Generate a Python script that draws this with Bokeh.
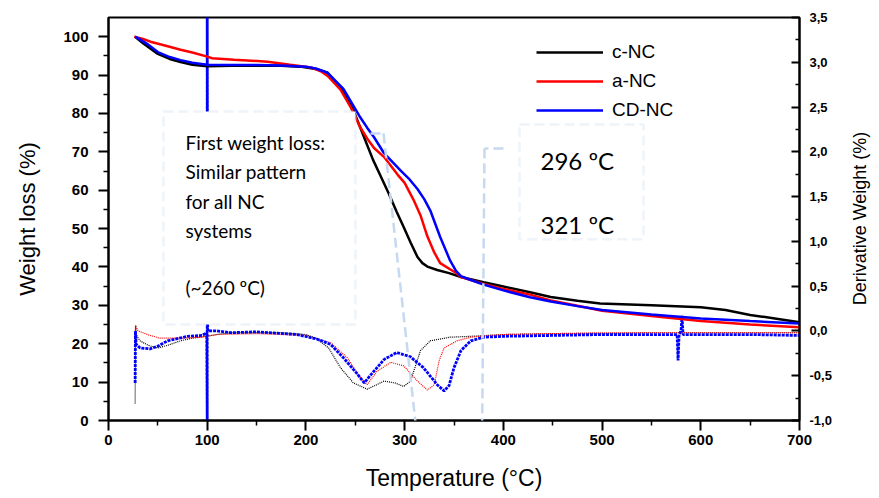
import math
from bokeh.plotting import figure
from bokeh.models import (Range1d, LinearAxis, FixedTicker, CustomJSTickFormatter,
                          BoxAnnotation, Label, Arrow, Legend, LegendItem)
from bokeh.embed import file_html
from bokeh.resources import INLINE

# ---------------- TG curves (left axis, weight %) ----------------
t_c = [27, 35, 50, 62, 73, 85, 100, 125, 150, 175, 194, 210, 222, 235, 248, 258, 268, 276, 284,
       292, 299, 306, 313, 318, 323, 333, 345, 357, 380, 400, 427, 448, 475, 498, 550, 600, 625,
       650, 675, 700]
w_c = [100.0, 98.3, 95.5, 94.2, 93.4, 92.7, 92.3, 92.4, 92.4, 92.4, 92.2, 91.6, 90.6, 86.7, 80.9,
       74.4, 67.9, 63.5, 59.1, 54.3, 50.4, 46.4, 42.6, 41.0, 40.1, 39.2, 38.4, 37.4, 36.0, 34.9,
       33.4, 32.2, 31.2, 30.5, 30.0, 29.5, 28.8, 27.5, 26.6, 25.6]

t_a = [26, 35, 42.5, 60, 73, 85, 100, 105, 127, 161, 184, 205, 215, 222, 235, 245, 255, 262, 269,
       279, 286, 293, 300, 309, 316, 323, 330, 336, 346, 353, 357, 380, 400, 427, 448, 475, 500,
       550, 600, 650, 700]
w_a = [100.0, 99.4, 98.7, 97.5, 96.6, 95.9, 94.8, 94.4, 94.0, 93.5, 92.7, 92.0, 91.0, 89.8, 86.2,
       81.8, 76.4, 73.5, 71.0, 68.7, 66.4, 64.0, 61.9, 57.5, 53.5, 48.0, 43.8, 41.0, 39.4, 38.3,
       37.4, 35.6, 34.3, 32.8, 31.3, 29.9, 28.6, 27.2, 25.9, 25.0, 24.3]

t_cd = [27, 40, 50, 62, 73, 85, 100, 125, 150, 175, 200, 210, 222, 238, 255, 262, 269, 279, 283,
        296, 305, 313, 320, 326, 336, 346, 352, 357, 365, 380, 400, 427, 448, 475, 500, 550, 600,
        650, 700]
w_cd = [100.0, 98.0, 96.0, 94.7, 93.9, 93.2, 92.7, 92.6, 92.6, 92.5, 92.2, 91.7, 90.6, 86.4, 79.0,
        76.3, 73.8, 69.7, 68.6, 65.1, 62.8, 60.3, 57.6, 54.7, 47.8, 41.7, 39.0, 37.6, 36.8, 35.4,
        33.9, 32.1, 31.0, 29.8, 28.8, 27.6, 26.6, 25.9, 25.3]

# ---------------- derivative curves (right axis) ----------------
dt_c = [27, 27.4, 28, 30, 32, 40, 50, 60, 73, 85, 93, 110, 124, 150, 175, 200, 210, 223, 235,
        248, 262, 270, 279, 290, 299, 306, 316, 326, 346, 367, 400, 450, 500, 550, 600, 650, 700]
dd_c = [-0.81, 0.06, -0.04, -0.08, -0.11, -0.16, -0.19, -0.16, -0.11, -0.08, -0.07, -0.04, -0.02,
        -0.02, -0.02, -0.04, -0.08, -0.19, -0.41, -0.58, -0.65, -0.61, -0.56, -0.58, -0.62, -0.56,
        -0.22, -0.11, -0.07, -0.06, -0.04, -0.03, -0.03, -0.02, -0.02, -0.02, -0.02]

dt_a = [27, 27.4, 30, 42, 52, 73, 93, 110, 150, 200, 225, 242, 255, 262, 272, 286, 299, 313, 323,
        330, 335, 340, 353, 367, 400, 450, 500, 550, 600, 650, 700]
dd_a = [-0.2, 0.06, 0.0, -0.05, -0.08, -0.08, -0.07, -0.04, -0.03, -0.05, -0.13, -0.30, -0.52,
        -0.60, -0.45, -0.35, -0.39, -0.56, -0.66, -0.60, -0.33, -0.19, -0.11, -0.07, -0.04, -0.03,
        -0.02, -0.02, -0.02, -0.02, -0.02]

dt_cd = [27, 27.3, 28, 32, 42, 50, 60, 80, 95, 99.5, 100, 100, 100.5, 110, 124, 150, 191, 211, 225,
         238, 252, 259, 265, 279, 292, 306, 319, 333, 340, 345, 350, 357, 367, 380, 400, 450, 500,
         550, 576, 577, 578, 580, 581, 582, 600, 650, 700]
dd_cd = [-0.58, 0.0, -0.15, -0.19, -0.20, -0.17, -0.11, -0.06, -0.05, -0.02, -1.0, 3.6, 0.0, 0.0,
         -0.02, -0.01, -0.04, -0.09, -0.15, -0.30, -0.48, -0.58, -0.50, -0.32, -0.24, -0.29, -0.41,
         -0.60, -0.67, -0.61, -0.41, -0.22, -0.11, -0.07, -0.06, -0.05, -0.04, -0.04, -0.04, -0.33,
         -0.04, 0.0, 0.17, -0.04, -0.04, -0.04, -0.05]

labels = ["c-NC", "a-NC", "CD-NC"]
colors = ["black", "red", "blue"]
x_ticks = [0, 100, 200, 300, 400, 500, 600, 700]
y_ticks = [0, 10, 20, 30, 40, 50, 60, 70, 80, 90, 100]
d_ticks = [-1.0, -0.5, 0.0, 0.5, 1.0, 1.5, 2.0, 2.5, 3.0, 3.5]

FONT = "Liberation Sans"
BOXC = "#c6d9f0"

p = figure(width=879, height=498, output_backend="svg", toolbar_location=None,
           x_range=Range1d(0, 700), y_range=Range1d(0, 105),
           min_border_left=108, min_border_right=80, min_border_top=17, min_border_bottom=78)
p.extra_y_ranges = {"deriv": Range1d(-1.0, 3.5)}
p.xgrid.visible = False
p.ygrid.visible = False
p.outline_line_color = "black"
p.outline_line_width = 2
p.background_fill_color = "white"

# derivative curves
p.line(dt_c, dd_c, y_range_name="deriv", line_color="black", line_width=1.2, line_dash="1 1")
p.line(dt_a, dd_a, y_range_name="deriv", line_color="red", line_width=1.2, line_dash="1 1")
p.line(dt_cd, dd_cd, y_range_name="deriv", line_color="blue", line_width=2.8, line_dash="3 1")

# TG curves
r_c = p.line(t_c, w_c, line_color=colors[0], line_width=2.5)
r_a = p.line(t_a, w_a, line_color=colors[1], line_width=2.5)
r_cd = p.line(t_cd, w_cd, line_color=colors[2], line_width=2.5)

def style_axis(ax, size):
    ax.axis_line_width = 2
    ax.axis_line_color = "black"
    ax.major_tick_line_width = 2
    ax.minor_tick_line_width = 1.5
    ax.major_label_text_font = FONT
    ax.major_label_text_font_style = "bold"
    ax.major_label_text_font_size = size
    ax.major_label_text_color = "black"
    ax.axis_label_text_font = FONT
    ax.axis_label_text_font_style = "normal"
    ax.axis_label_text_color = "black"

xa = p.xaxis[0]
style_axis(xa, "15px")
xa.ticker = FixedTicker(ticks=x_ticks, minor_ticks=[50, 150, 250, 350, 450, 550, 650])
xa.major_tick_out = 10
xa.major_tick_in = 0
xa.minor_tick_out = 5
xa.minor_tick_in = 0
xa.major_label_standoff = 4
xa.axis_label = "Temperature (°C)"
xa.axis_label_text_font_size = "23px"
xa.axis_label_standoff = 17

ya = p.yaxis[0]
style_axis(ya, "15px")
ya.ticker = FixedTicker(ticks=y_ticks, minor_ticks=[5, 15, 25, 35, 45, 55, 65, 75, 85, 95])
ya.major_tick_out = 10
ya.major_tick_in = 0
ya.minor_tick_out = 5
ya.minor_tick_in = 0
ya.major_label_standoff = 10
ya.axis_label = "Weight loss (%)"
ya.axis_label_text_font_size = "22px"
ya.axis_label_standoff = 20

ra = LinearAxis(y_range_name="deriv")
style_axis(ra, "13px")
ra.ticker = FixedTicker(ticks=d_ticks,
                        minor_ticks=[-0.75, -0.25, 0.25, 0.75, 1.25, 1.75, 2.25, 2.75, 3.25])
ra.formatter = CustomJSTickFormatter(code="return tick.toFixed(1).replace('.', ',');")
ra.major_tick_in = 8
ra.major_tick_out = 0
ra.minor_tick_in = 4
ra.minor_tick_out = 0
ra.major_label_standoff = 10
p.add_layout(ra, "right")

# right-hand title, reading bottom-to-top, placed in the right side panel
p.add_layout(Label(x=859, y=218, x_units="canvas", y_units="canvas",
                   text="Derivative Weight (%)", angle=math.pi / 2,
                   text_align="center", text_baseline="middle", text_font=FONT,
                   text_font_size="18px", text_color="black"), "right")

# annotation boxes
box1 = BoxAnnotation(left=55.7, right=250.2, bottom=25.0, top=80.5, fill_color="white",
                     fill_alpha=1.0, line_color=BOXC, line_width=2.5, line_dash="10 5")
box2 = BoxAnnotation(left=416.4, right=542.0, bottom=47.2, top=77.1, fill_color="white",
                     fill_alpha=1.0, line_color=BOXC, line_width=2.5, line_dash="10 5")
p.add_layout(box1)
p.add_layout(box2)

for (xs, ys, xe, ye) in [(265.4, 74.8, 278.6, 74.8), (278.6, 74.8, 312.1, -3.1),
                         (400.1, 70.9, 380.9, 70.9), (380.9, 70.9, 377.9, -20.3)]:
    p.add_layout(Arrow(x_start=xs, y_start=ys, x_end=xe, y_end=ye, end=None,
                       line_color=BOXC, line_width=2.5, line_dash="10 5"))

box1_lines = [("First weight loss:", 72.43), ("Similar pattern", 64.75),
              ("for all NC", 57.06), ("systems", 49.5), ("(~260 ºC)", 34.65)]
for txt, yy in box1_lines:
    p.add_layout(Label(x=78, y=yy, text=txt, text_font="Lato", text_font_size="19px",
                       text_baseline="alphabetic", text_color="black"))
for txt, yy in [("296 ºC", 67.74), ("321 ºC", 51.07)]:
    p.add_layout(Label(x=437.6, y=yy, text=txt, text_font="Lato", text_font_size="24px",
                       text_baseline="alphabetic", text_color="black"))

legend = Legend(items=[LegendItem(label=labels[0], renderers=[r_c]),
                       LegendItem(label=labels[1], renderers=[r_a]),
                       LegendItem(label=labels[2], renderers=[r_cd])],
                location=(428, 299), border_line_alpha=0, background_fill_alpha=0,
                padding=0, margin=0, spacing=7, glyph_height=22, glyph_width=67,
                label_standoff=9, label_height=22, label_text_font=FONT,
                label_text_font_size="19px", label_text_color="black")
p.add_layout(legend)

open("out.html", "w").write(file_html(p, INLINE))
